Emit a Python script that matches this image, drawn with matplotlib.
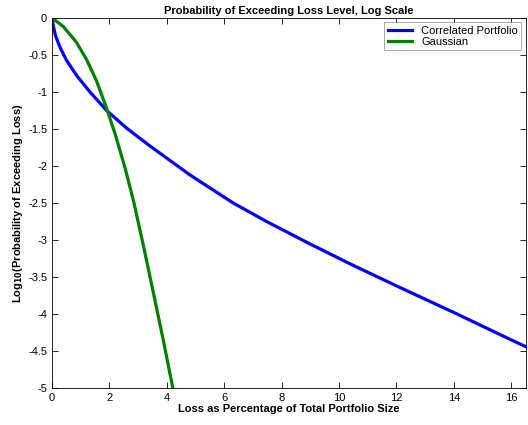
import matplotlib
matplotlib.use('Agg')
import matplotlib.pyplot as plt

plt.rcParams['font.family'] = ['Liberation Sans', 'DejaVu Sans']

# loss level (% of portfolio) and log10 of exceedance probability
corr_loss = [0.0, 0.04, 0.12, 0.28, 0.5, 0.86, 1.32, 1.9, 2.6, 3.41, 4.8, 6.31,
             7.47, 8.97, 10.37, 12.0, 14.0, 16.0, 16.5]
corr_logp = [0.0, -0.1, -0.24, -0.40, -0.57, -0.78, -1.0, -1.25, -1.49, -1.73,
             -2.12, -2.50, -2.75, -3.05, -3.32, -3.62, -3.98, -4.35, -4.44]

gauss_loss = [0.0, 0.4, 0.85, 1.2, 1.55, 1.9, 2.2, 2.54, 2.85, 3.18, 3.53, 3.88, 4.22]
gauss_logp = [0.0, -0.12, -0.33, -0.56, -0.85, -1.22, -1.57, -2.02, -2.49, -3.07,
              -3.71, -4.36, -5.02]

fig = plt.figure(figsize=(5.28, 4.25), dpi=100)
ax = fig.add_axes([0.0985, 0.087, 0.897, 0.871])

ax.plot(corr_loss, corr_logp, color=(0, 0, 1), lw=2.3, label='Correlated Portfolio')
ax.plot(gauss_loss, gauss_logp, color=(0, 0.5, 0), lw=2.3, label='Gaussian')

ax.set_xlim(0, 16.5)
ax.set_ylim(-5, 0)
ax.set_xticks(range(0, 17, 2))
ax.set_yticks([0, -0.5, -1, -1.5, -2, -2.5, -3, -3.5, -4, -4.5, -5])
ax.set_yticklabels(['0', '-0.5', '-1', '-1.5', '-2', '-2.5', '-3', '-3.5', '-4', '-4.5', '-5'])
ax.tick_params(direction='in', top=True, right=True, labelsize=8, length=4, width=0.6)
for s in ax.spines.values():
    s.set_linewidth(0.6)

ax.set_title('Probability of Exceeding Loss Level, Log Scale', fontsize=8, fontweight='bold', pad=3)
ax.set_xlabel('Loss as Percentage of Total Portfolio Size', fontsize=8, fontweight='bold', labelpad=1)
ax.set_ylabel('Log$_{\\mathbf{10}}$(Probability of Exceeding Loss)', fontsize=8, fontweight='bold', labelpad=2)

leg = ax.legend(loc='upper right', fontsize=8, fancybox=False, borderaxespad=0.4,
                handlelength=2.2, borderpad=0.3, labelspacing=0.1)
leg.get_frame().set_edgecolor('0.5')
leg.get_frame().set_linewidth(0.6)

fig.savefig('out.png', dpi=100)
